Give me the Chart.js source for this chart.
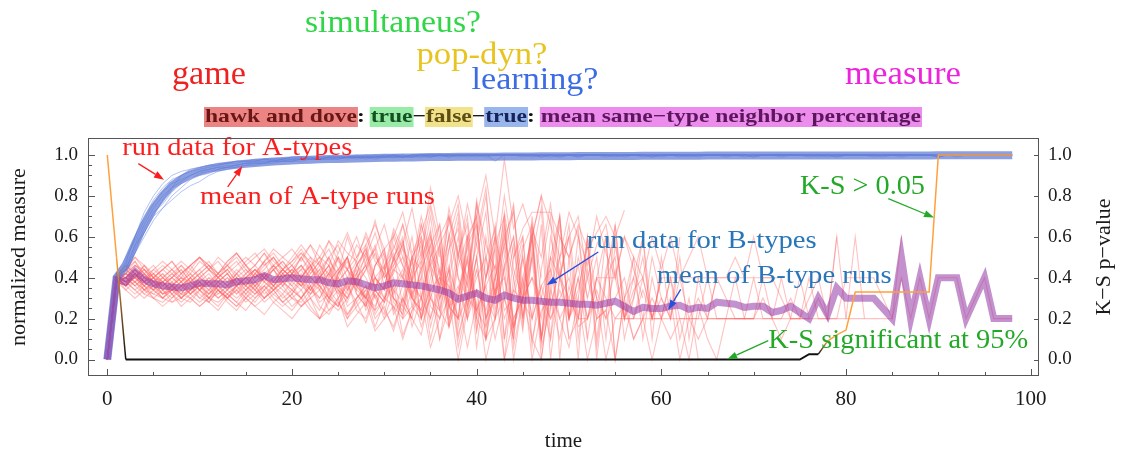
<!DOCTYPE html>
<html>
<head>
<meta charset="utf-8">
<script src="https://cdn.jsdelivr.net/npm/chart.js@4.4.1/dist/chart.umd.min.js"></script>
<style>
  html, body { margin: 0; padding: 0; background: #ffffff; }
  #wrap { width: 1124px; height: 454px; }
</style>
</head>
<body>
<div id="wrap"><canvas id="c" width="1124" height="454"></canvas></div>
<script>
// ---- axis ticks ----
const xTicks = [0,5,10,15,20,25,30,35,40,45,50,55,60,65,70,75,80,85,90,95,100];
const xMajor = [0,20,40,60,80,100];
const yTicks = [0,.05,.1,.15,.2,.25,.3,.35,.4,.45,.5,.55,.6,.65,.7,.75,.8,.85,.9,.95,1];
const yMajor = [0,.2,.4,.6,.8,1];
const yMajorLabels = ['0.0','0.2','0.4','0.6','0.8','1.0'];
const pTicks = [0,.2,.4,.6,.8,1];
const pTickLabels = ['0.0','0.2','0.4','0.6','0.8','1.0'];
const sig = 0.05;

// ---- mean of A-type runs (t = 0..98) ----
const meanA = [0,.4,.46,.565,.66,.74,.8,.85,.88,.905,.92,.932,.94,.947,.952,.957,.961,.965,.968,.971,.973,
 .975,.977,.979,.98,.981,.982,.983,.984,.985,.986,.987,.988,.988,.989,.99,.99,.99,.991,.991,.992,
 .992,.992,.993,.993,.993,.993,.994,.994,.994,.994,.995,.995,.995,.995,.995,.995,.995,.996,.996,.996,
 .996,.996,.996,.996,.997,.997,.997,.997,.997,.997,.997,.997,.998,.998,.998,.998,.998,.998,.998,.998,
 .998,.998,.998,.998,.998,.998,.998,.998,.998,.999,.999,.999,.999,.999,.999,.999,.999,.999];

// ---- mean of B-type runs (t = 0..98) ----
const meanB = [0,.39,.38,.43,.39,.37,.36,.355,.35,.36,.375,.37,.37,.365,.38,.385,.39,.41,.39,.395,.4,
 .395,.39,.39,.375,.37,.385,.38,.365,.35,.36,.375,.37,.365,.36,.35,.34,.325,.295,.31,.325,
 .3,.29,.315,.3,.29,.29,.285,.28,.28,.275,.27,.27,.265,.275,.285,.26,.235,.255,.25,.25,
 .26,.265,.245,.255,.25,.28,.275,.27,.255,.26,.26,.23,.24,.26,.23,.2,.3,.22,.35,.3,
 .3,.3,.3,.25,.2,.5,.2,.4,.2,.4,.4,.4,.2,.3,.4,.2,.2,.2];

// ---- K-S p-value (t = 0..98) ----
const ksP = [1,.5,0,0,0,0,0,0,0,0,0,0,0,0,0,0,0,0,0,0,0,
 0,0,0,0,0,0,0,0,0,0,0,0,0,0,0,0,0,0,0,0,
 0,0,0,0,0,0,0,0,0,0,0,0,0,0,0,0,0,0,0,0,
 0,0,0,0,0,0,0,0,0,0,0,0,0,0,0,.026,.026,.09,.12,.144,
 .33,.33,.33,.33,.33,.33,.33,.33,.33,1,1,1,1,1,1,1,1,1];

// ---- individual A-type runs (t = 0..98) ----
const runA1 = [0,.4,.48,.6,.7,.78,.84,.88,.9,.93,.94,.95,.96,.96,.97,.97,.98,.98,.98,.98,.99,.99,.99,.98,.99,.99,.99,.99,1,.99,.99,1,1,.99,1,1,1,.99,1,1,1,1,1,1,1,
 .99,1,1,1,.99,1,1,1,1,1,.99,1,1,1,1,1,1,.99,1,1,1,1,1,1,1,.99,1,1,1,1,1,1,1,1,.99,1,1,1,1,1,1,1,1,1,1,.99,1,1,1,1,1,1,1,1];
const runA2 = [0,.38,.42,.52,.6,.68,.74,.78,.82,.85,.87,.9,.92,.93,.94,.95,.95,.96,.96,.97,.97,.97,.98,.98,.98,.98,.99,.99,.98,.99,.99,.99,.99,1,.99,.99,1,.99,1,1,.99,1,1,1,1,
 1,.99,1,1,1,1,.99,1,1,1,1,1,1,1,.99,1,1,1,1,1,1,1,1,1,.99,1,1,1,1,1,1,1,.99,1,1,1,1,1,1,1,1,.99,1,1,1,1,1,1,1,1,1,1,1,1];
const runA3 = [0,.42,.5,.58,.68,.76,.82,.86,.88,.9,.92,.93,.94,.95,.95,.96,.97,.97,.97,.98,.98,.98,.98,.99,.99,.99,.98,.99,.99,.99,1,.99,.99,1,1,.99,1,1,1,.99,1,1,1,1,1,
 1,1,1,.99,1,1,1,1,1,1,1,.99,1,1,1,1,1,1,1,1,1,1,.99,1,1,1,1,1,1,1,1,1,1,1,.99,1,1,1,1,1,1,1,1,1,1,1,1,.99,1,1,1,1,1,1];
const runA4 = [0,.4,.44,.54,.64,.72,.76,.82,.86,.88,.91,.92,.93,.94,.95,.96,.96,.96,.97,.97,.98,.98,.98,.98,.99,.98,.99,.99,.99,.99,.99,1,.99,.99,1,1,.99,1,1,1,1,.99,1,1,1,
 1,1,.99,1,1,1,1,1,1,.99,1,1,1,1,1,1,1,1,1,.99,1,1,1,1,1,1,1,1,1,1,1,.99,1,1,1,1,1,1,1,1,1,1,1,1,1,.99,1,1,1,1,1,1,1,1];
const runA5 = [0,.41,.46,.56,.66,.74,.8,.84,.87,.9,.92,.93,.94,.94,.95,.96,.96,.97,.97,.97,.97,.98,.98,.98,.98,.99,.99,.98,.99,.99,.99,.99,1,.99,.99,1,1,1,.99,1,1,1,.97,1,1,
 1,1,1,1,.99,1,1,1,1,1,1,1,1,.99,1,1,1,1,1,1,1,1,1,1,1,.99,1,1,1,1,1,1,1,1,1,1,1,1,.99,1,1,1,1,1,1,1,1,1,1,1,1,1,1,1];
const runA6 = [0,.39,.44,.56,.62,.7,.78,.84,.9,.92,.93,.94,.95,.96,.96,.97,.97,.98,.97,.98,.98,.98,.99,.98,.99,.99,.99,.99,.99,1,.99,1,.99,1,1,1,1,1,1,1,1,1,1,1,1,
 1,1,1,1,1,1,.99,1,1,1,1,1,1,1,1,1,1,1,.99,1,1,1,1,1,1,1,1,1,1,1,1,1,1,.99,1,1,1,1,1,1,1,1,1,1,1,1,1,1,1,1,1,1,1,1];
const runA7 = [0,.4,.47,.6,.72,.8,.86,.9,.92,.93,.94,.95,.95,.96,.97,.97,.97,.98,.98,.98,.99,.99,.98,.99,.99,.99,.99,1,.99,.99,1,1,.99,1,1,1,1,1,1,1,1,1,1,1,1,
 1,1,1,1,1,1,1,1,1,1,1,1,1,1,1,.99,1,1,1,1,1,1,1,1,1,1,1,1,1,1,1,1,1,1,1,1,1,1,1,.99,1,1,1,1,1,1,1,1,1,1,1,1,1,1];
const runA8 = [0,.4,.45,.52,.62,.7,.74,.8,.84,.88,.9,.91,.93,.94,.94,.95,.96,.96,.97,.97,.97,.98,.98,.98,.98,.98,.99,.99,.99,.98,.99,.99,.99,.99,1,.99,1,1,1,1,1,1,1,1,1,
 1,1,.99,1,1,1,1,1,1,1,1,1,1,1,.99,1,1,1,1,1,1,1,1,1,1,1,1,1,.99,1,1,1,1,1,1,1,1,1,1,1,1,1,1,1,1,.99,1,1,1,1,1,1,1,1];

// ---- individual B-type runs ----
const runB1 = [0,.4,.36,.44,.38,.34,.3,.36,.32,.38,.42,.36,.3,.34,.4,.44,.38,.42,.46,.4,.36,
 .42,.34,.3,.38,.44,.36,.28,.34,.4,.3,.36,.44,.3,.22,.34,.4,.26,.36,.2,.34,
 .24,.4,.2,.34,.28,.2,.36,.2,.3,.4,.2,.2,.34,.2,.3,.4,.2,.2,.2,.2,
 .2,.2,.2,.2,.2,.2,.2,.2,.2,.2,.2,.2,.2,.2,.2,.2,.2,.2,.2,.4,
 .4,.4,.4,.3,.2,.4,.2,.4,.2,.4,.4,.4,.2,.3,.4,.2,.2,.2];
const runB2 = [0,.38,.4,.46,.42,.36,.38,.32,.36,.4,.34,.38,.42,.38,.32,.36,.42,.48,.38,.44,.4,
 .36,.44,.5,.4,.32,.38,.46,.4,.3,.36,.5,.4,.3,.44,.56,.3,.4,.6,.26,.4,
 .5,.2,.44,.6,.3,.4,.2,.5,.4,.3,.46,.2,.4,.4,.4,.2,.34,.4,.2,.4,
 .4,.4,.4,.4,.4,.4,.4,.4,.4,.4,.4,.4,.3,.2,.4,.2,.3,.2,.6,.2,
 .2,.2,.2,.2,.2,.6];
const runB3 = [0,.42,.38,.4,.36,.4,.34,.38,.3,.34,.38,.32,.36,.4,.36,.42,.36,.4,.44,.36,.42,
 .46,.38,.34,.42,.36,.3,.4,.46,.36,.42,.34,.28,.4,.48,.3,.24,.44,.3,.5,.24,
 .36,.46,.24,.3,.5,.2,.36,.44,.2,.3,.2,.4,.2,.24,.44,.2,.2,.4,.2,.2,
 .4,.2,.2,.2,.4,.2,.2,.4,.2,.2,.4,.2,.2,.3,.2,.4,.2,.2,.2,.2,
 .6,.2];
const runB4 = [0,.4,.42,.48,.4,.38,.42,.36,.4,.34,.4,.44,.4,.36,.42,.38,.44,.4,.46,.42,.4,
 .44,.5,.4,.46,.38,.44,.36,.3,.4,.34,.44,.4,.36,.3,.2,.4,.36,.2,.3,.44,
 .2,.34,.4,.2,.3,.4,.3,.2,.34,.2,.4,.2,.4,.3,.2,.2,.2,.34,.2,.3,
 .2,.4,.2,.3,.2,.4,.3,.2,.2,.4,.2,.2,.4,.2,.2,.3,.4,.2,.6];
const runB5 = [0,.38,.36,.42,.34,.32,.3,.28,.3,.34,.3,.28,.34,.3,.26,.32,.36,.3,.34,.28,.32,
 .38,.3,.24,.34,.28,.22,.3,.36,.24,.3,.26,.2,.34,.16,.3,.2,.4,.1,.3,.24,
 .36,.1,.3,.16,.4,0,.24,.3,.1,.36,.16,.2,.3,0,.2,.26,.1,.2,.3,.2,
 .1,.2,0,.26,.1,0,.2,.2,.2,.2,.3,.2,.1,.2,.2,.2];
const runB6 = [0,.4,.44,.5,.46,.4,.44,.4,.46,.42,.48,.44,.5,.46,.42,.48,.52,.46,.5,.44,.48,
 .54,.46,.5,.58,.48,.44,.56,.5,.62,.46,.54,.66,.5,.44,.7,.4,.6,.76,.36,.56,
 .8,.4,.6,.72,.34,.64,.5,.76,.4,.6,.7,.4,.56,.66,.4,.6,.5,.4,.6,.44,
 .6,.4,.5,.6,.4,.4,.4,.5,.4,.6,.4,.4,.4];
const runB7 = [0,.4,.34,.38,.32,.3,.28,.32,.26,.3,.34,.28,.24,.3,.34,.28,.32,.36,.3,.26,.3,
 .34,.26,.2,.3,.36,.22,.28,.18,.32,.24,.16,.3,.2,.12,.34,.1,.26,.3,.06,.28,
 .1,.36,0,.2,.3,.1,0,.34,.2,.06,.3,0,.2,.24,0,.3,.1,.2,0,.2,
 .3,0,.2,.1,.2,.2,.2,.2,.2,.2];
const runB8 = [0,.42,.4,.44,.4,.36,.38,.42,.38,.34,.4,.36,.4,.44,.38,.34,.4,.42,.38,.44,.4,
 .36,.42,.48,.34,.4,.5,.36,.3,.46,.54,.32,.4,.6,.3,.5,.66,.24,.5,.7,.2,
 .6,.3,.5,.74,.2,.54,.1,.6,.4,.2,.6,.3,.5,.1,.56,.3,.4,.2,.5,.3,
 .2,.5,.1,.4,.2,.4];
const runB9 = [0,.4,.38,.42,.36,.4,.34,.3,.36,.4,.34,.38,.32,.36,.4,.36,.42,.38,.34,.4,.44,
 .38,.34,.4,.46,.3,.36,.44,.28,.34,.5,.3,.24,.44,.56,.2,.36,.6,.16,.4,.7,
 .16,.3,.64,.1,.5,.2,.66,0,.4,.6,.1,.44,.2,.6,0,.3,.5,.1,.4,.2,
 .4,.1,.3,0];
const runB10 = [0,.38,.42,.46,.44,.38,.36,.4,.44,.38,.42,.46,.4,.36,.42,.46,.4,.44,.5,.42,.46,
 .4,.48,.42,.36,.5,.44,.38,.52,.4,.34,.56,.46,.3,.6,.44,.24,.62,.4,.2,.66,
 .3,.2,.6,.4,.14,.7,.3,.1,.6,.5,0,.6,.3,.2,.66,.2,.4,.6,.1,.5,
 .2,.6];
const runB11 = [0,.4,.36,.4,.34,.38,.32,.36,.3,.28,.34,.3,.36,.32,.28,.34,.38,.32,.36,.3,.34,
 .3,.36,.28,.32,.4,.26,.3,.36,.22,.3,.4,.2,.26,.44,.16,.34,.46,.12,.3,.5,
 .1,.4,.56,.06,.3,.6,0,.36,.5,.1,.2,.6,0,.4,.5,.1,.3,.6,.2,.4];
const runB12 = [0,.4,.44,.48,.42,.46,.4,.44,.48,.44,.5,.46,.42,.48,.52,.46,.5,.54,.48,.44,.5,
 .56,.5,.46,.58,.52,.62,.5,.56,.66,.54,.6,.72,.52,.62,.76,.56,.66,.8,.58,.7,
 .9,.6,.98,.64,.76,.6,.8,.66,.5,.72,.6,.46,.7,.52,.4,.6,.44,.3];
const runB13 = [0,.4,.36,.42,.38,.34,.4,.36,.32,.38,.34,.3,.36,.4,.34,.3,.36,.42,.36,.32,.38,
 .44,.36,.3,.4,.5,.34,.42,.56,.4,.34,.6,.46,.38,.66,.5,.36,.7,.52,.4,.76,
 .56,.44,.8,.5,.64,.72,.72,.72,.6,.5,.66,.54,.62,.7,.6,.73];
const runB14 = [0,.38,.4,.36,.4,.42,.38,.34,.38,.42,.38,.34,.4,.36,.32,.38,.34,.4,.36,.42,.38,
 .34,.4,.36,.3,.38,.44,.32,.26,.4,.46,.24,.36,.5,.2,.4,.56,.18,.46,.6,.14,
 .5,.64,.1,.5,.6,.06,.44,.7,0,.5,.64,.1,.4,.6,0];
const runB15 = [0,.4,.42,.38,.34,.38,.32,.36,.4,.36,.3,.34,.38,.34,.4,.36,.32,.36,.4,.44,.4,
 .36,.32,.38,.44,.34,.28,.4,.46,.3,.22,.44,.5,.26,.2,.46,.56,.2,.3,.6,.24,
 .16,.6,.4,.1,.54,.66,.1,.3,.7,.2,.4,.1];
const runB16 = [0,.42,.38,.44,.4,.36,.32,.34,.38,.32,.36,.4,.34,.3,.36,.4,.44,.38,.34,.38,.42,
 .38,.44,.4,.34,.42,.48,.36,.44,.52,.4,.46,.56,.38,.5,.62,.34,.54,.72,.3,.6,
 .84,.3,.56,.76,.2,.6,.8,.24,.5,.6];
const runB17 = [0,.4,.38,.4,.36,.34,.38,.34,.3,.34,.38,.34,.3,.34,.38,.32,.28,.34,.38,.34,.3,
 .28,.34,.4,.3,.26,.34,.4,.24,.32,.2,.34,.42,.16,.3,.48,.1,.36,.2,.5,.06,
 .4,.54,0,.4,.6,.1,.3,.5];
const runB18 = [0,.4,.42,.46,.42,.38,.4,.36,.4,.38,.34,.4,.38,.42,.36,.4,.44,.4,.46,.4,.44,
 .5,.42,.48,.54,.44,.5,.6,.46,.54,.66,.48,.56,.74,.5,.84,.6,.7,.5,.76,.56,
 .4,.66,.3,.56,.2,.5];
const runB19 = [0,.4,.36,.32,.36,.3,.34,.28,.32,.3,.26,.3,.34,.28,.24,.3,.26,.22,.28,.24,.2,
 .26,.3,.2,.24,.3,.16,.22,.28,.14,.2,.26,.1,.24,.3,.06,.2,.3,0,.24,.34,
 0,.2,.3,.1];
const runB20 = [0,.38,.42,.4,.44,.4,.38,.42,.46,.4,.44,.48,.42,.46,.5,.44,.4,.46,.5,.44,.48,
 .52,.46,.4,.5,.56,.44,.5,.6,.48,.42,.62,.5,.4,.66,.46,.36,.7,.4,.3,.76,
 .4,.6];
const runB21 = [0,.42,.44,.4,.36,.4,.36,.32,.36,.4,.36,.32,.38,.34,.3,.34,.38,.42,.38,.44,.4,
 .46,.4,.36,.42,.34,.3,.38,.3,.26,.36,.3,.22,.4,.2,.3,.44,.16,.34,.48,.2];
const runB22 = [0,.4,.4,.44,.38,.34,.3,.34,.3,.36,.32,.28,.34,.3,.36,.32,.38,.34,.4,.36,.42,
 .36,.4,.46,.38,.44,.5,.36,.44,.56,.4,.48,.66,.42,.52,.74,.5];
const runB23 = [0,.38,.36,.42,.38,.4,.34,.36,.32,.34,.38,.3,.32,.36,.4,.34,.3,.36,.32,.28,.32,
 .26,.3,.34,.24,.28,.2,.3,.34,.2,.26,.14,.3,.2];
const runB24 = [0,.4,.42,.4,.46,.42,.38,.4,.36,.38,.42,.46,.4,.44,.48,.42,.46,.52,.44,.48,.42,
 .5,.44,.56,.48,.42,.6,.46,.52,.68,.5];
const runB25 = [0,.4,.38,.34,.38,.42,.36,.4,.44,.38,.34,.38,.42,.38,.44,.4,.36,.4,.34,.38,.42,
 .38,.32,.4,.46,.36,.3,.42,.5,.34,.28,.46,.54,.3,.24,.5,.6,.26,.2,.56,.66,
 .2,.4,.7,.16,.36,.62,.1,.44,.7,.2,.3,.6,.06,.4,.66,.2,.5];
const runB26 = [0,.42,.46,.42,.38,.42,.46,.42,.38,.44,.4,.36,.42,.46,.4,.36,.42,.38,.44,.48,.42,
 .46,.4,.44,.5,.4,.34,.46,.54,.36,.3,.5,.58,.32,.4,.64,.3,.44,.68,.26,.5,
 .72,.24,.46,.6,.16,.5,.74,.1,.4,.66,.2,.5,.3];
const runB27 = [0,.38,.34,.3,.34,.3,.26,.3,.34,.3,.26,.3,.28,.32,.28,.24,.3,.34,.28,.32,.26,
 .3,.24,.2,.28,.34,.2,.26,.32,.16,.28,.36,.12,.24,.4,.1,.3,.44,.06,.26,.5,
 .1,.2,.46,0,.3,.5,.06,.26,.44,.1];
const runB28 = [0,.4,.44,.4,.46,.4,.44,.48,.42,.46,.5,.44,.48,.42,.46,.5,.46,.52,.46,.5,.54,
 .48,.56,.5,.46,.58,.52,.48,.62,.5,.44,.64,.54,.46,.7,.52,.42,.74,.5,.36,.78,
 .5,.32,.72,.44,.3,.66,.4];
const runB29 = [0,.4,.36,.38,.34,.36,.32,.34,.36,.32,.36,.38,.34,.3,.34,.38,.34,.3,.34,.38,.34,
 .3,.36,.4,.3,.26,.38,.42,.26,.34,.46,.22,.3,.5,.2,.36,.54,.16,.3,.56,.14,
 .4,.6,.1,.34,.56];
const runB30 = [0,.42,.4,.38,.42,.38,.34,.38,.42,.36,.4,.44,.38,.42,.36,.4,.44,.4,.36,.4,.44,
 .4,.46,.38,.42,.5,.4,.34,.48,.54,.36,.42,.58,.38,.3,.6,.44,.28,.56];
const runB31 = [0,.38,.4,.36,.32,.36,.3,.34,.38,.32,.28,.32,.36,.3,.26,.3,.34,.28,.32,.36,.3,
 .26,.32,.36,.28,.24,.3];
const runB32 = [0,.4,.44,.5,.44,.4,.44,.48,.42,.46,.5,.46,.42,.48,.52,.46,.42,.48,.54,.5,.46,
 .52,.48];
const runB33 = [0,.4,.36,.4,.44,.38,.42,.38,.34,.4,.44,.38,.34,.38,.42,.36,.32,.38,.44,.38,.34,
 .4,.46,.36,.3,.42,.5,.34,.3,.46,.52,.3,.26,.5,.58,.3];
const runB34 = [0,.42,.38,.34,.3,.34,.38,.32,.28,.32,.36,.3,.26,.32,.36,.3,.26,.3,.34,.28,.24,
 .3,.36,.26,.22,.3,.38,.24,.2,.34,.28];
const runB35 = [0,.4,.46,.42,.38,.44,.48,.44,.4,.46,.5,.44,.4,.46,.52,.46,.4,.48,.52,.46,.42,
 .5,.56,.46,.42,.52];
const runB36 = [0,.38,.42,.38,.42,.36,.4,.44,.38,.42,.36,.32,.38,.42,.36,.4,.34,.4,.44,.38,.32,
 .4,.46,.34,.28,.42,.5,.32,.26,.46,.54,.28,.22,.5,.6,.26,.2,.54,.64,.2,.44];
const runB37 = [0,.4,.38,.42,.36,.32,.36,.4,.36,.32,.38,.42,.36,.32,.36,.4,.36,.3,.36,.42,.36,
 .3,.38,.44,.32,.26,.4,.48,.3,.24,.44,.52,.26,.2,.48,.6,.24,.16,.52,.66,.2,
 .1,.56,.7,.16,.3,.6,.1,.4,.66,.2,.5,.3];
const runB38 = [0,.42,.4,.36,.4,.44,.4,.36,.42,.46,.4,.36,.4,.44,.38,.42,.46,.4,.36,.42,.46,
 .4,.34,.42,.5,.38,.32,.46,.54,.34,.28,.5,.6,.3,.24,.56,.66,.26,.2,.6,.7,
 .2,.3,.66,.14,.4,.6,.1,.5,.7,.2,.34,.56,.1,.44,.6,.2,.3,.5,.2,.4];

const runsA = [runA1,runA2,runA3,runA4,runA5,runA6,runA7,runA8];
const runsB = [runB1,runB2,runB3,runB4,runB5,runB6,runB7,runB8,runB9,runB10,runB11,runB12,
  runB13,runB14,runB15,runB16,runB17,runB18,runB19,runB20,runB21,runB22,runB23,runB24,
  runB25,runB26,runB27,runB28,runB29,runB30,runB31,runB32,runB33,runB34,runB35,runB36,
  runB37,runB38];

// ---- styling ----
const FONT = '"Liberation Serif", "Times New Roman", serif';
const ORANGE = 'rgb(255,160,60)';
const BLACK = '#111111';
Chart.defaults.font.family = FONT;
Chart.defaults.color = '#1a1a1a';

const toPts = vals => vals.map((v, i) => ({ x: i, y: v }));

const datasets = [];
datasets.push({
  label: 'K-S p-value', data: toPts(ksP), yAxisID: 'y2', order: 0,
  borderColor: ORANGE, borderWidth: 1.5,
  segment: {
    borderColor: c => {
      const a = c.p0.parsed.y, b = c.p1.parsed.y;
      if (a > sig && b > sig) return ORANGE;
      if (a <= sig && b <= sig) return BLACK;
      const g = c.chart.ctx.createLinearGradient(c.p0.x, c.p0.y, c.p1.x, c.p1.y);
      g.addColorStop(0, a <= sig ? BLACK : ORANGE);
      g.addColorStop(1, a <= sig ? ORANGE : BLACK);
      return g;
    },
    borderWidth: c => (c.p0.parsed.y <= sig && c.p1.parsed.y <= sig) ? 2 : 1.5
  }
});
datasets.push({ label: 'mean B', data: toPts(meanB), order: 1,
  borderColor: 'rgba(145,55,165,0.55)', borderWidth: 7 });
datasets.push({ label: 'mean A', data: toPts(meanA), order: 2,
  borderColor: 'rgba(96,122,212,0.72)', borderWidth: 8 });
runsB.forEach((r, k) => datasets.push({ label: 'B run ' + (k + 1), data: toPts(r), order: 3,
  borderColor: 'rgba(255,95,95,0.38)', borderWidth: 1.1 }));
runsA.forEach((r, k) => datasets.push({ label: 'A run ' + (k + 1), data: toPts(r), order: 4,
  borderColor: 'rgba(105,135,230,0.5)', borderWidth: 1 }));

// ---- text drawn above the plot and inside it ----
const headWords = [
  { text: 'simultaneus?', x: 393, y: 32, size: 32, w: 176, color: 'rgb(48,214,72)' },
  { text: 'pop-dyn?',     x: 482, y: 64, size: 32, w: 131, color: 'rgb(232,196,32)' },
  { text: 'learning?',    x: 535, y: 89, size: 32, w: 127, color: 'rgb(60,108,228)' },
  { text: 'game',         x: 209, y: 84, size: 33, w: 74,  color: 'rgb(238,32,32)' },
  { text: 'measure',      x: 903, y: 84, size: 33, w: 116, color: 'rgb(236,36,220)' }
];
const keyLine = [
  { text: 'hawk and dove', bg: 'rgb(236,132,132)', fg: 'rgb(105,22,22)' },
  { text: ': ', fg: '#111' },
  { text: 'true', bg: 'rgb(152,236,168)', fg: 'rgb(22,80,32)' },
  { text: '\u2212', fg: '#111' },
  { text: 'false', bg: 'rgb(242,226,140)', fg: 'rgb(92,78,20)' },
  { text: '\u2212', fg: '#111' },
  { text: 'true', bg: 'rgb(152,182,236)', fg: 'rgb(22,36,92)' },
  { text: ': ', fg: '#111' },
  { text: 'mean same\u2212type neighbor percentage', bg: 'rgb(236,140,236)', fg: 'rgb(92,22,92)' }
];
const RED = 'rgb(250,30,30)', STEEL = 'rgb(40,118,186)', ROYAL = 'rgb(36,80,220)', GREEN = 'rgb(36,168,40)';
const notes = [
  { text: 'run data for A-types', t: 14.07, v: .999, size: 25, w: 230, color: RED },
  { text: 'mean of A-type runs',  t: 22.76, v: .759, size: 25, w: 235, color: RED },
  { text: 'run data for B-types', t: 64.37, v: .543, size: 26, w: 230, color: STEEL },
  { text: 'mean of B-type runs',  t: 72.23, v: .372, size: 26, w: 235, color: STEEL },
  { text: 'K-S > 0.05',           t: 81.78, v: .8115, size: 28, w: 125, color: GREEN },
  { text: 'K-S significant at 95%', t: 85.66, v: .056, size: 28, w: 260, color: GREEN }
];
const pointers = [
  { t0: 3.36, v0: .958, t1: 6.14, v1: .879, color: RED },
  { t0: 13.04, v0: .844, t1: 14.62, v1: .945, color: RED },
  { t0: 53.17, v0: .526, t1: 47.59, v1: .364, color: ROYAL },
  { t0: 62.1, v0: .343, t1: 60.75, v1: .242, color: ROYAL },
  { t0: 84.58, v0: .787, t1: 89.53, v1: .694, color: GREEN },
  { t0: 71.58, v0: .092, t1: 67.14, v1: .001, color: GREEN }
];

function fitText(ctx, text, cx, by, size, w, color, bold) {
  ctx.save();
  ctx.font = (bold ? 'bold ' : '') + size + 'px ' + FONT;
  const sx = w / ctx.measureText(text).width;
  ctx.translate(cx, by);
  ctx.scale(sx, 1);
  ctx.fillStyle = color;
  ctx.textAlign = 'center';
  ctx.textBaseline = 'alphabetic';
  ctx.fillText(text, 0, 0);
  ctx.restore();
}

function drawArrow(ctx, x0, y0, x1, y1, color) {
  const a = Math.atan2(y1 - y0, x1 - x0), L = 10, W = 3.6;
  const bx = x1 - L * Math.cos(a), by = y1 - L * Math.sin(a);
  ctx.save();
  ctx.strokeStyle = color; ctx.fillStyle = color; ctx.lineWidth = 1.3;
  ctx.beginPath(); ctx.moveTo(x0, y0); ctx.lineTo(bx, by); ctx.stroke();
  ctx.beginPath();
  ctx.moveTo(x1, y1);
  ctx.lineTo(bx + W * Math.sin(a), by - W * Math.cos(a));
  ctx.lineTo(bx - W * Math.sin(a), by + W * Math.cos(a));
  ctx.closePath(); ctx.fill();
  ctx.restore();
}

const decorations = {
  id: 'decorations',
  afterDatasetsDraw(chart) {
    const { ctx, scales: { x, y } } = chart;
    pointers.forEach(p => drawArrow(ctx, x.getPixelForValue(p.t0), y.getPixelForValue(p.v0),
      x.getPixelForValue(p.t1), y.getPixelForValue(p.v1), p.color));
    notes.forEach(n => fitText(ctx, n.text, x.getPixelForValue(n.t), y.getPixelForValue(n.v), n.size, n.w, n.color, false));
  },
  afterDraw(chart) {
    const { ctx, chartArea: a, scales } = chart;
    // frame with inward ticks
    ctx.save();
    ctx.strokeStyle = '#555555'; ctx.lineWidth = 1;
    ctx.strokeRect(Math.round(a.left) + 0.5, Math.round(a.top) + 0.5,
      Math.round(a.right - a.left) - 1, Math.round(a.bottom - a.top) - 1);
    ctx.beginPath();
    xTicks.forEach(v => {
      const px = Math.round(scales.x.getPixelForValue(v)) + 0.5;
      const len = xMajor.includes(v) ? 7 : 4;
      ctx.moveTo(px, a.bottom); ctx.lineTo(px, a.bottom - len);
    });
    yTicks.forEach(v => {
      const py = Math.round(scales.y.getPixelForValue(v)) + 0.5;
      const len = yMajor.includes(v) ? 7 : 4;
      ctx.moveTo(a.left, py); ctx.lineTo(a.left + len, py);
    });
    pTicks.forEach(v => {
      const py = Math.round(scales.y2.getPixelForValue(v)) + 0.5;
      ctx.moveTo(a.right, py); ctx.lineTo(a.right - 5, py);
    });
    ctx.stroke();
    ctx.restore();

    // right axis title, reading upward
    ctx.save();
    ctx.translate(1104, (a.top + a.bottom) / 2);
    ctx.rotate(-Math.PI / 2);
    ctx.font = '22px ' + FONT;
    ctx.fillStyle = '#1a1a1a';
    ctx.textAlign = 'center';
    ctx.textBaseline = 'middle';
    ctx.fillText('K\u2212S p\u2212value', 0, 0);
    ctx.restore();

    // heading words
    headWords.forEach(h => fitText(ctx, h.text, h.x, h.y, h.size, h.w, h.color, false));

    // highlighted key line
    ctx.save();
    ctx.font = 'bold 19px ' + FONT;
    const total = keyLine.reduce((s, k) => s + ctx.measureText(k.text).width, 0);
    const left = 205, right = 921, sx = (right - left) / total;
    let cx = left;
    keyLine.forEach(k => {
      const w = ctx.measureText(k.text).width * sx;
      if (k.bg) { ctx.fillStyle = k.bg; ctx.fillRect(cx - 1, 107, w + 2, 20); }
      ctx.save();
      ctx.translate(cx, 122);
      ctx.scale(sx, 1);
      ctx.fillStyle = k.fg;
      ctx.textAlign = 'left';
      ctx.textBaseline = 'alphabetic';
      ctx.fillText(k.text, 0, 0);
      ctx.restore();
      cx += w;
    });
    ctx.restore();
  }
};

const yTickLabel = v => { const k = yMajor.indexOf(v); return k < 0 ? '' : yMajorLabels[k]; };

new Chart(document.getElementById('c'), {
  type: 'line',
  data: { datasets },
  options: {
    responsive: false,
    animation: false,
    devicePixelRatio: 1,
    events: [],
    layout: { padding: { top: 138, left: 0, right: 0, bottom: 0 } },
    plugins: { legend: { display: false }, tooltip: { enabled: false }, title: { display: false } },
    elements: { point: { radius: 0 }, line: { tension: 0, borderJoinStyle: 'miter' } },
    scales: {
      x: {
        type: 'linear', position: 'bottom', min: -2.09, max: 100.9,
        afterBuildTicks: s => { s.ticks = xTicks.map(v => ({ value: v })); },
        afterFit: s => { s.height = 78; },
        grid: { display: false, drawTicks: false }, border: { display: false },
        ticks: { autoSkip: false, maxRotation: 0, padding: 11, font: { size: 21 },
          callback: v => xMajor.includes(v) ? String(v) : '' },
        title: { display: true, text: 'time', font: { size: 21 }, padding: { top: 0, bottom: 0 } }
      },
      y: {
        type: 'linear', position: 'left', min: -0.08068, max: 1.08314,
        afterBuildTicks: s => { s.ticks = yTicks.map(v => ({ value: v })); },
        afterFit: s => { s.width = 88; },
        grid: { display: false, drawTicks: false }, border: { display: false },
        ticks: { autoSkip: false, padding: 10, font: { size: 19 }, callback: yTickLabel },
        title: { display: true, text: 'normalized measure', font: { size: 22 }, padding: { top: 6, bottom: 0 } }
      },
      y2: {
        type: 'linear', position: 'right', min: -0.08068, max: 1.08314,
        afterBuildTicks: s => { s.ticks = pTicks.map(v => ({ value: v })); },
        afterFit: s => { s.width = 85; },
        grid: { display: false, drawTicks: false }, border: { display: false },
        ticks: { autoSkip: false, padding: 9, font: { size: 19 },
          callback: v => { const k = pTicks.indexOf(v); return k < 0 ? '' : pTickLabels[k]; } }
      }
    }
  },
  plugins: [decorations]
});
</script>
</body>
</html>
